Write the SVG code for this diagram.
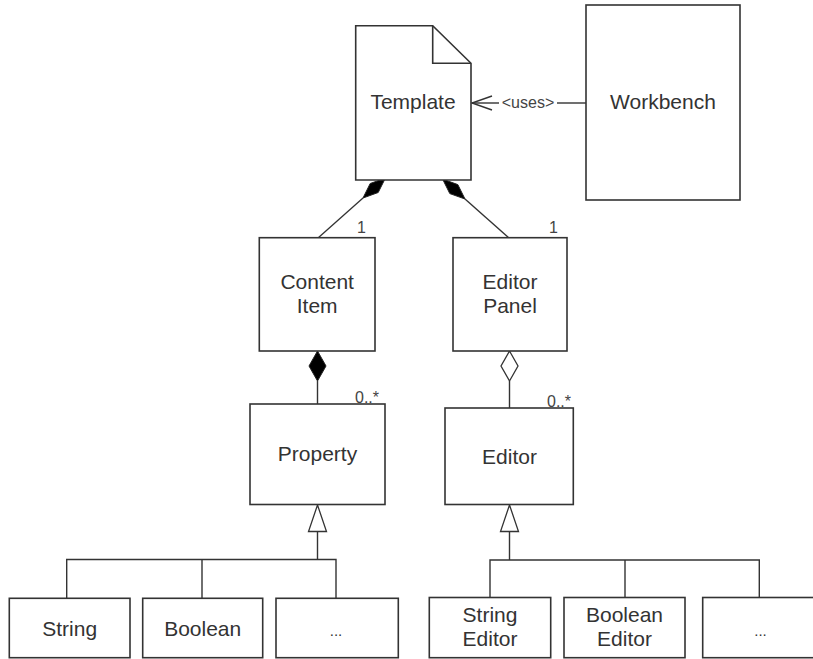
<svg xmlns="http://www.w3.org/2000/svg" width="813" height="659" viewBox="0 0 813 659">
<style>
.box{fill:#fff;stroke:#333;stroke-width:1.6}
.ln{fill:none;stroke:#333;stroke-width:1.4}
.fd{fill:#000;stroke:#222;stroke-width:1}
.hd{fill:#fff;stroke:#333;stroke-width:1.3}
.t{font-family:"Liberation Sans",Arial,sans-serif;font-size:21px;fill:#333;text-anchor:middle}
.s{font-family:"Liberation Sans",Arial,sans-serif;font-size:16px;fill:#444}
</style>
<rect width="813" height="659" fill="#fff"/>
<g id="connectors">
  <line class="ln" x1="586" y1="103" x2="557" y2="103"/>
  <line class="ln" x1="499" y1="103" x2="472" y2="103"/>
  <polyline class="ln" points="492,96 472,103 492,110"/>
  <text class="s" x="528" y="108" text-anchor="middle" font-family="Liberation Sans, Arial, sans-serif" font-size="16">&lt;uses&gt;</text>
  <line class="ln" x1="363" y1="198" x2="318" y2="238"/>
  <polygon class="fd" points="385.4,178.1 378.2,192.5 363,198 370.2,183.5"/>
  <text class="s" x="357" y="233" font-family="Liberation Sans, Arial, sans-serif" font-size="16">1</text>
  <line class="ln" x1="465" y1="199" x2="509" y2="238"/>
  <polygon class="fd" points="442.6,179.1 449.8,193.6 465,199 457.8,184.6"/>
  <text class="s" x="549" y="233" font-family="Liberation Sans, Arial, sans-serif" font-size="16">1</text>
  <line class="ln" x1="317.5" y1="381" x2="317.5" y2="404"/>
  <polygon class="fd" points="317.5,351 326,366 317.5,381 309,366"/>
  <text class="s" x="355" y="403" font-family="Liberation Sans, Arial, sans-serif" font-size="16">0..*</text>
  <line class="ln" x1="509.5" y1="381" x2="509.5" y2="408"/>
  <polygon class="hd" points="509.5,351 518,366 509.5,381 501,366"/>
  <text class="s" x="547" y="407" font-family="Liberation Sans, Arial, sans-serif" font-size="16">0..*</text>
  <line class="ln" x1="317.5" y1="531.5" x2="317.5" y2="559.5"/>
  <polygon class="hd" points="317.5,505 326.5,531.5 308.5,531.5"/>
  <polyline class="ln" points="66.7,598 66.7,559.5 336,559.5 336,598"/>
  <line class="ln" x1="202" y1="559.5" x2="202" y2="598"/>
  <line class="ln" x1="509.5" y1="531.5" x2="509.5" y2="560"/>
  <polygon class="hd" points="509.5,505 518.5,531.5 500.5,531.5"/>
  <polyline class="ln" points="490,597.5 490,560 759.3,560 759.3,597.5"/>
  <line class="ln" x1="625" y1="560" x2="625" y2="597.5"/>
</g>
<g id="template">
  <path class="box" d="M355.7,25.7 H432.7 L471,63.3 V180 H355.7 Z"/>
  <path class="ln" d="M432.7,25.7 V63.3 H471" style="stroke-width:1.6"/>
  <text class="t" x="413" y="109">Template</text>
</g>
<g id="workbench">
  <rect class="box" x="586" y="5" width="154" height="195"/>
  <text class="t" x="663" y="109">Workbench</text>
</g>
<g id="content-item">
  <rect class="box" x="259.3" y="237.7" width="115.7" height="113.3"/>
  <text class="t" x="317.2" y="288.5">Content</text>
  <text class="t" x="317.2" y="312.5">Item</text>
</g>
<g id="editor-panel">
  <rect class="box" x="453" y="237.7" width="114" height="113.3"/>
  <text class="t" x="510" y="288.5">Editor</text>
  <text class="t" x="510" y="312.5">Panel</text>
</g>
<g id="property">
  <rect class="box" x="250" y="404" width="135" height="100.5"/>
  <text class="t" x="317.5" y="461">Property</text>
</g>
<g id="editor">
  <rect class="box" x="445" y="408" width="128.3" height="96.5"/>
  <text class="t" x="509.5" y="463.5">Editor</text>
</g>
<g id="string">
  <rect class="box" x="9.3" y="598.3" width="120.7" height="59.4"/>
  <text class="t" x="69.7" y="635.5">String</text>
</g>
<g id="boolean">
  <rect class="box" x="142.7" y="598.3" width="120" height="59.4"/>
  <text class="t" x="202.7" y="635.5">Boolean</text>
</g>
<g id="prop-more">
  <rect class="box" x="276" y="598.3" width="122.3" height="59.4"/>
  <text class="t" x="336" y="635.5" style="font-size:15px">...</text>
</g>
<g id="string-editor">
  <rect class="box" x="429.3" y="597.5" width="121.4" height="60.2"/>
  <text class="t" x="490" y="622">String</text>
  <text class="t" x="490" y="646">Editor</text>
</g>
<g id="boolean-editor">
  <rect class="box" x="564" y="597.5" width="121" height="60.2"/>
  <text class="t" x="624.5" y="622">Boolean</text>
  <text class="t" x="624.5" y="646">Editor</text>
</g>
<g id="editor-more">
  <rect class="box" x="702.7" y="597.5" width="120" height="60.2"/>
  <text class="t" x="760.5" y="635.5" style="font-size:15px">...</text>
</g>
</svg>
